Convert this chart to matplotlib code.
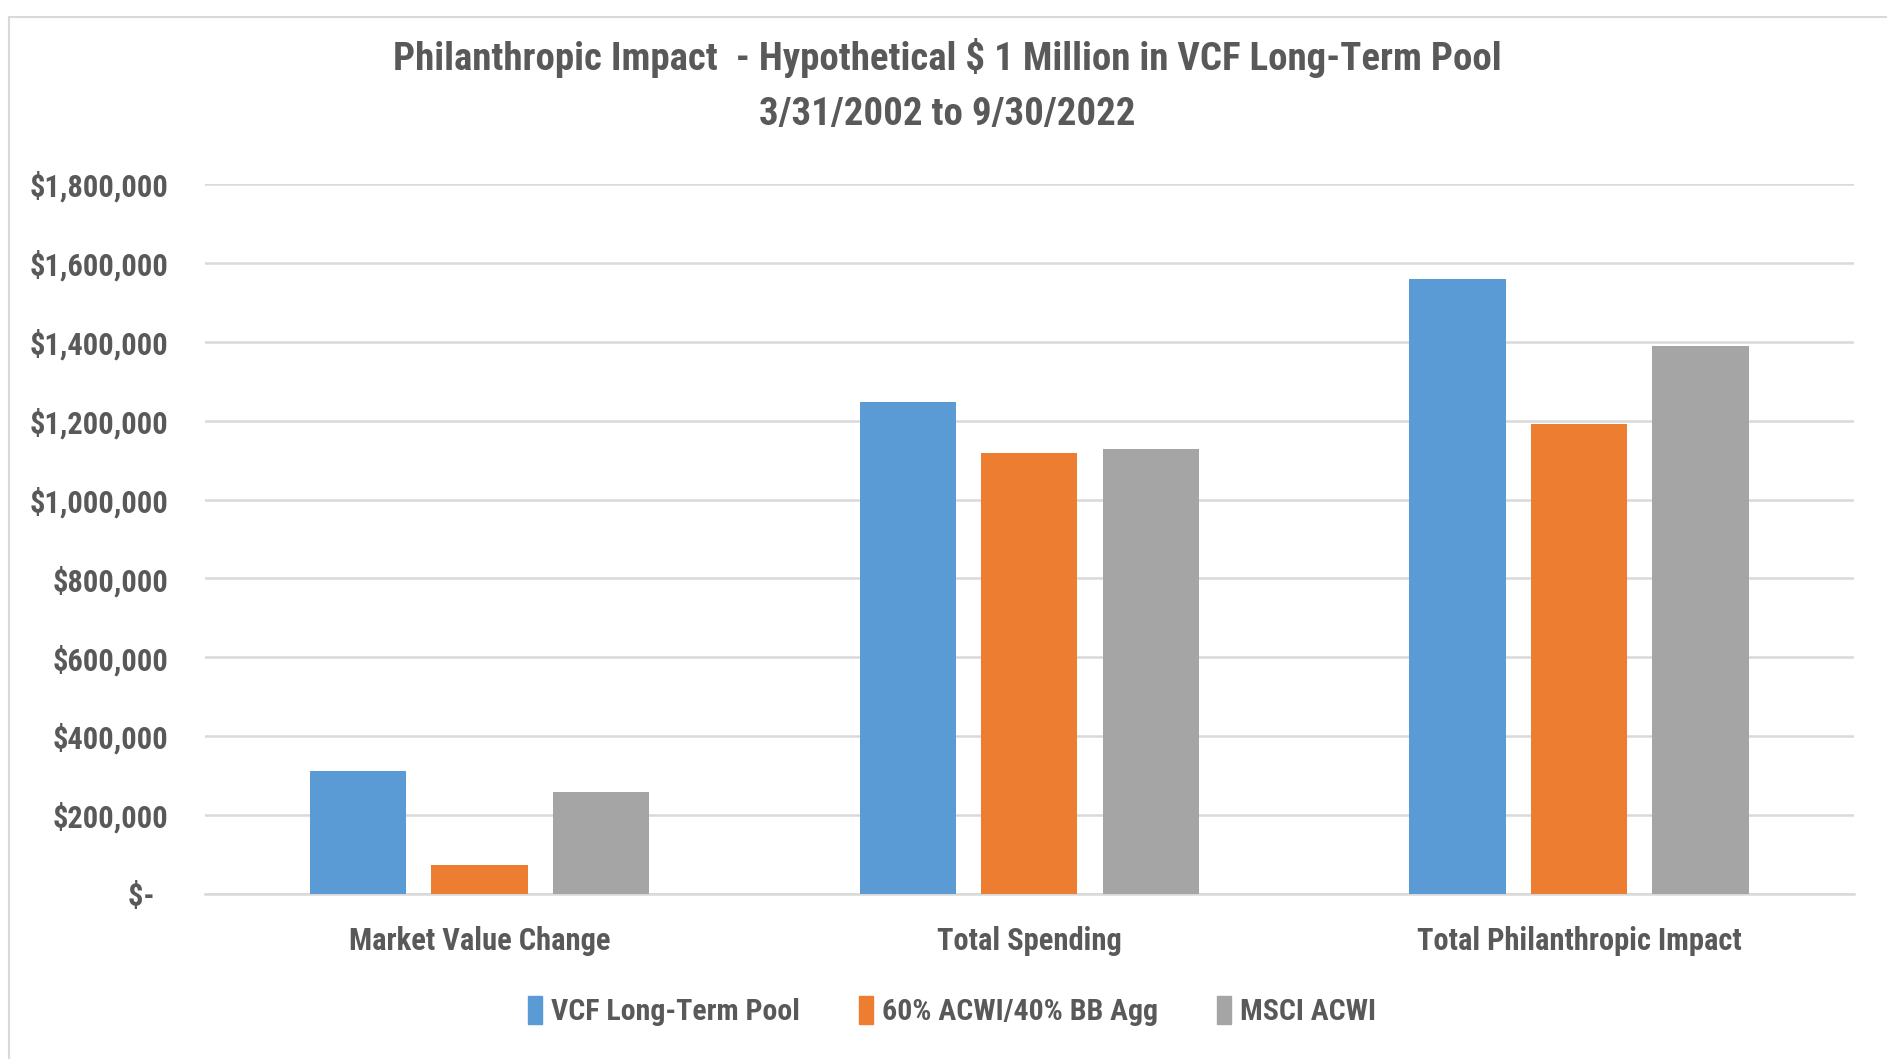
import matplotlib
matplotlib.use("Agg")
import matplotlib.pyplot as plt
import numpy as np
from matplotlib.patches import Rectangle
from matplotlib.ticker import FuncFormatter

categories = ["Market Value Change", "Total Spending", "Total Philanthropic Impact"]
series_names = ["VCF Long-Term Pool", "60% ACWI/40% BB Agg", "MSCI ACWI"]
vcf_pool = [312000, 1246000, 1558000]
acwi_60_40 = [73000, 1118000, 1191000]
msci_acwi = [259000, 1129000, 1388000]
yticks = [0, 200000, 400000, 600000, 800000, 1000000, 1200000, 1400000, 1600000, 1800000]

colors = ["#5B9BD5", "#ED7D31", "#A5A5A5"]
text_color = "#595959"
FONT = ["Liberation Sans Narrow", "Roboto Condensed", "DejaVu Sans"]
plt.rcParams['font.family'] = FONT

fig = plt.figure(figsize=(18.87, 10.59), dpi=100)
ax = fig.add_axes([0.1084, 0.1558, 0.8741, 0.6705])

x = np.arange(len(categories))
width = 0.175
offset = 0.221
for i, (vals, name) in enumerate(zip([vcf_pool, acwi_60_40, msci_acwi], series_names)):
    ax.bar(x + (i - 1) * offset, vals, width, color=colors[i], label=name, zorder=3)

ax.set_xlim(-0.5, 2.5)
ax.set_ylim(0, 1800000)
ax.set_yticks(yticks)

def fmt(v, pos):
    if v == 0:
        return "$-  "
    return "${:,.0f}".format(v)

ax.yaxis.set_major_formatter(FuncFormatter(fmt))
ax.set_xticks(x)
ax.set_xticklabels(categories)
ax.grid(axis="y", color="#D9D9D9", linewidth=1.8, zorder=0)
for s in ["top", "right", "left"]:
    ax.spines[s].set_visible(False)
ax.spines["bottom"].set_color("#D9D9D9")
ax.spines["bottom"].set_linewidth(1.8)
ax.tick_params(axis="both", length=0, colors=text_color)
ax.tick_params(axis="y", pad=26, labelsize=22)
ax.tick_params(axis="x", pad=23, labelsize=22)
for lab in ax.get_yticklabels() + ax.get_xticklabels():
    lab.set_fontweight("bold")
    lab.set_color(text_color)

fig.text(0.502, 0.945, "Philanthropic Impact  - Hypothetical $ 1 Million in VCF Long-Term Pool",
         ha="center", va="center", fontsize=28, fontweight="bold", color=text_color)
fig.text(0.502, 0.892, "3/31/2002 to 9/30/2022",
         ha="center", va="center", fontsize=28, fontweight="bold", color=text_color)

handles = [Rectangle((0, 0), 1, 1, color=c) for c in colors]
leg = fig.legend(handles, series_names, loc="center", bbox_to_anchor=(0.5045, 0.0453),
                 ncol=3, frameon=False, handlelength=0.45, handleheight=1.1,
                 handletextpad=0.3, columnspacing=2.0,
                 prop={"size": 21.5, "weight": "bold", "family": FONT})
for t in leg.get_texts():
    t.set_color(text_color)

fig.add_artist(Rectangle((0.005, -0.01), 1.0, 1.004 - 0.01, transform=fig.transFigure,
                         fill=False, edgecolor="#D9D9D9", linewidth=1.5))

fig.savefig("out.png", dpi=100, facecolor="white")
